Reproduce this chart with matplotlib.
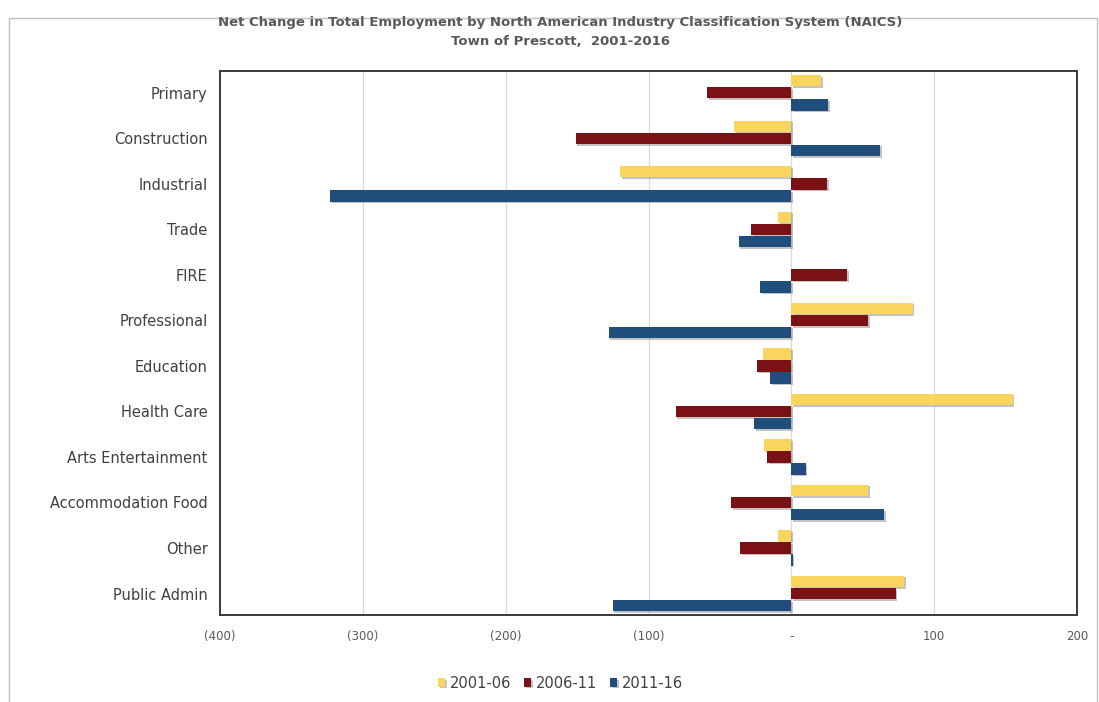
import numpy as np
import matplotlib
matplotlib.use("Agg")
from matplotlib import pyplot as plt
from matplotlib import patheffects as pe
from matplotlib.patches import Rectangle
from matplotlib.ticker import FuncFormatter

industries = ["Primary", "Construction", "Industrial", "Trade", "FIRE", "Professional",
              "Education", "Health Care", "Arts Entertainment", "Accommodation Food",
              "Other", "Public Admin"]
periods = ["2001-06", "2006-11", "2011-16"]
change_2001_06 = [21, -40, -120, -9, 0, 85, -20, 155, -19, 54, -9, 79]
change_2006_11 = [-59, -151, 25, -28, 39, 54, -24, -81, -17, -42, -36, 73]
change_2011_16 = [26, 62, -323, -37, -22, -128, -15, -26, 10, 65, 1, -125]
colors = ["#FAD55E", "#7A1114", "#1F4E7C"]

fig = plt.figure(figsize=(10.99, 7.02), dpi=100)
# outer chart frame
fig.patches.append(Rectangle((0.008, -0.01), 0.99, 0.985, transform=fig.transFigure,
                             fill=False, edgecolor="#BFBFBF", linewidth=1.0))
ax = fig.add_axes([0.2002, 0.124, 0.7798, 0.775])

y = np.arange(len(industries))
h = 0.25
off = 0.265
shadow = [pe.SimplePatchShadow(offset=(1.2, -1.2), shadow_rgbFace="#888888", alpha=0.5), pe.Normal()]
for k, vals in enumerate([change_2001_06, change_2006_11, change_2011_16]):
    bars = ax.barh(y + (k - 1) * off, vals, height=h, color=colors[k], label=periods[k], zorder=3)
    for b in bars:
        b.set_path_effects(shadow)

ax.set_xlim(-400, 200)
ax.set_ylim(len(industries) - 0.53, -0.48)
ax.set_xticks(np.arange(-400, 201, 100))
ax.xaxis.set_major_formatter(FuncFormatter(
    lambda v, p: "-" if v == 0 else (f"({abs(int(v))})" if v < 0 else f"{int(v)}")))
ax.set_yticks(y)
ax.set_yticklabels(industries)
ax.tick_params(axis="y", length=0, pad=9, labelsize=10.5, labelcolor="#404040")
ax.tick_params(axis="x", length=0, pad=11, labelsize=8.5, labelcolor="#595959")
ax.grid(axis="x", color="#D9D9D9", linewidth=0.9, zorder=0)
for s in ax.spines.values():
    s.set_color("#3A3A3A")
    s.set_linewidth(1.4)

fig.text(0.51, 0.968, "Net Change in Total Employment by North American Industry Classification System (NAICS)",
         ha="center", va="center", fontsize=9.5, fontweight="bold", color="#595959",
         family=["Liberation Sans Narrow", "DejaVu Sans"])
fig.text(0.51, 0.941, "Town of Prescott,  2001-2016", ha="center", va="center",
         fontsize=9.5, fontweight="bold", color="#595959",
         family=["Liberation Sans Narrow", "DejaVu Sans"])

fig.legend(loc="center", bbox_to_anchor=(0.51, 0.027), ncol=3, frameon=False,
           fontsize=10.5, labelcolor="#404040", handlelength=0.5, handleheight=0.5,
           handletextpad=0.3, columnspacing=0.9)

fig.savefig("out.png", dpi=100)
